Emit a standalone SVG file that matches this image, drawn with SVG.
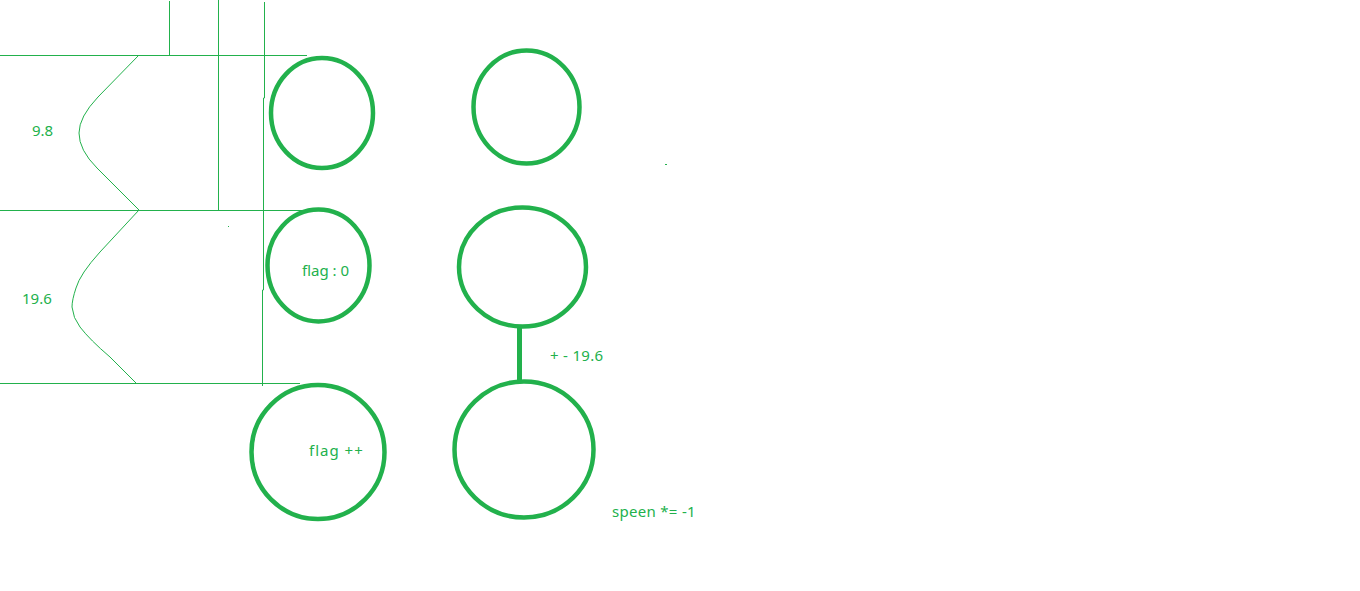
<svg xmlns="http://www.w3.org/2000/svg" width="1360" height="591" viewBox="0 0 1360 591">
<style>
.thin{fill:none;stroke:#22B14C;stroke-width:1}
.node{fill:none;stroke:#22B14C;stroke-width:4.5}
.conn{fill:none;stroke:#22B14C;stroke-width:5}
.lbl{fill:#22B14C;font-family:"Noto Sans","Liberation Sans",sans-serif;font-size:15px}
</style>
<rect width="1360" height="591" fill="#ffffff"/>
<g id="guides">
<line class="thin" x1="0" y1="55.5" x2="307" y2="55.5"/>
<line class="thin" x1="0" y1="210.5" x2="305" y2="210.5"/>
<line class="thin" x1="0" y1="383.5" x2="300" y2="383.5"/>
<line class="thin" x1="169.5" y1="1" x2="169.5" y2="55"/>
<line class="thin" x1="218.5" y1="0" x2="218.5" y2="211"/>
<polyline class="thin" points="264.5,2 264.5,98 263.5,98 263.5,290 262.5,290 262.5,386"/>
<path class="thin" d="M139,55 L98,97 Q79,117 79,133 Q79,150 97,168 L139,210"/>
<path class="thin" d="M139,210 L100,252 Q80,274 76,288 Q72,300 72,307 Q73,318 80,327 Q90,340 110,357 L136,383"/>
<text class="lbl" x="32" y="136">9.8</text>
<text class="lbl" x="22" y="304">19.6</text>
<rect x="228" y="226" width="1" height="1" fill="#22B14C"/>
<rect x="665" y="164" width="2" height="1" fill="#22B14C"/>
</g>
<g id="n1"><ellipse class="node" cx="322" cy="113" rx="51" ry="55"/></g>
<g id="n2"><ellipse class="node" cx="318.5" cy="265.5" rx="51" ry="56"/><text class="lbl" x="302" y="276">flag : 0</text></g>
<g id="n3"><ellipse class="node" cx="318" cy="452" rx="66.5" ry="67"/><text class="lbl" x="309" y="456" letter-spacing="1">flag ++</text></g>
<g id="n4"><ellipse class="node" cx="526.5" cy="107" rx="53" ry="56.5"/></g>
<g id="n5"><ellipse class="node" cx="522.5" cy="267" rx="63.5" ry="59.5"/></g>
<g id="n6"><ellipse class="node" cx="524" cy="449.5" rx="69.5" ry="68"/><text class="lbl" x="612" y="517" letter-spacing="0.3">speen *= -1</text></g>
<g id="connectors">
<line class="conn" x1="519.5" y1="326" x2="519.5" y2="381"/>
<text class="lbl" x="550" y="361" letter-spacing="0.3">+ - 19.6</text>
</g>
</svg>
